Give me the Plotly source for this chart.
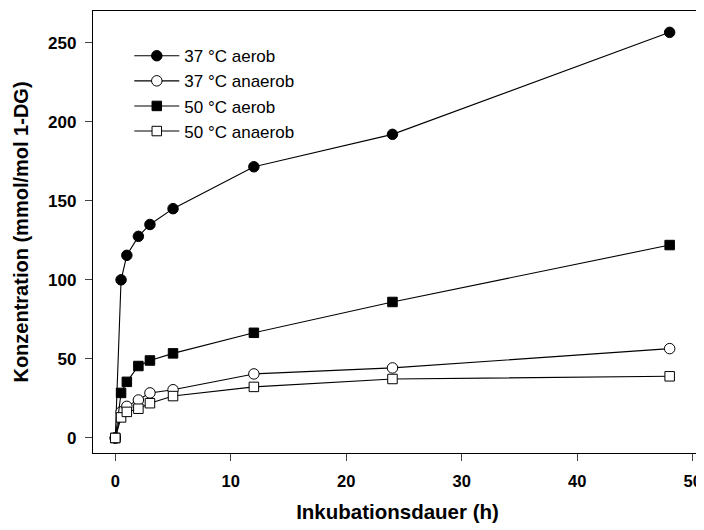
import plotly.graph_objects as go

time_h = [0, 0.5, 1, 2, 3, 5, 12, 24, 48]
c37_aerob = [0, 100, 115.5, 127.5, 135, 145, 171.5, 192, 256.5]
c37_anaerob = [0, 16.5, 20, 24, 28.5, 30.5, 40.5, 44.3, 56.5]
c50_aerob = [0, 28.5, 35.5, 45.5, 49, 53.5, 66.5, 86, 122]
c50_anaerob = [0, 13, 16.5, 18.5, 22, 26.5, 32.3, 37.3, 39]

series_names = ["37 °C aerob", "37 °C anaerob", "50 °C aerob", "50 °C anaerob"]
x_ticks = [0, 10, 20, 30, 40, 50]
y_ticks = [0, 50, 100, 150, 200, 250]

styles = [
    dict(symbol="circle", color="black"),
    dict(symbol="circle", color="white"),
    dict(symbol="square", color="black"),
    dict(symbol="square", color="white"),
]

fig = go.Figure()
for name, vals, st in zip(series_names,
                          [c37_aerob, c37_anaerob, c50_aerob, c50_anaerob],
                          styles):
    fig.add_trace(go.Scatter(
        x=time_h, y=vals, name=name, mode="lines+markers",
        line=dict(color="black", width=1.1),
        marker=dict(symbol=st["symbol"], size=10.5 if st["symbol"] == "circle" else 9.5,
                    color=st["color"], line=dict(color="black", width=1)),
    ))

font_family = "Liberation Sans, Arial, sans-serif"

fig.update_layout(
    width=696, height=522,
    margin=dict(l=85, r=2, t=3, b=77),
    paper_bgcolor="white", plot_bgcolor="white",
    font=dict(family=font_family, color="black"),
    showlegend=True,
    legend=dict(
        x=0.0596, y=0.9385, xanchor="left", yanchor="top",
        bgcolor="rgba(0,0,0,0)",
        font=dict(size=17, family=font_family, color="black"),
        traceorder="normal",
        itemwidth=45,
    ),
    xaxis=dict(
        range=[-1.93, 50.8], tickvals=x_ticks, ticks="outside", ticklen=7,
        ticklabelstandoff=6,
        showline=True, linecolor="black", linewidth=1.3, mirror=True,
        showgrid=False, zeroline=False,
        tickfont=dict(size=16.5, family=font_family, weight="bold"),
        title=dict(text="Inkubationsdauer (h)", standoff=15,
                   font=dict(size=20.5, family=font_family, weight="bold")),
    ),
    yaxis=dict(
        range=[-9.5, 270], tickvals=y_ticks, ticks="outside", ticklen=7,
        ticklabelstandoff=5,
        showline=True, linecolor="black", linewidth=1.3, mirror=True,
        showgrid=False, zeroline=False,
        tickfont=dict(size=17, family=font_family, weight="bold"),
        title=dict(text="Konzentration (mmol/mol 1-DG)", standoff=14,
                   font=dict(size=20, family=font_family, weight="bold")),
    ),
)

fig.write_html("out.html")
